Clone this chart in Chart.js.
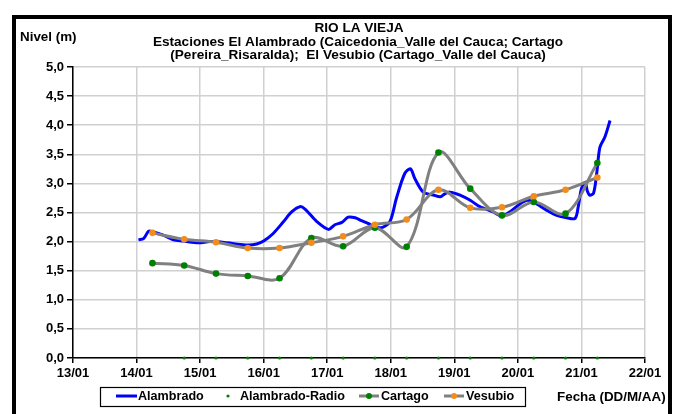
<!DOCTYPE html>
<html>
<head>
<meta charset="utf-8">
<script src="https://cdn.jsdelivr.net/npm/chart.js@4.4.0/dist/chart.umd.min.js"></script>
<style>
html,body{margin:0;padding:0;background:#fff;overflow:hidden;}
#wrap{position:relative;width:677px;height:414px;}
#frame{position:absolute;left:12px;top:15px;width:652px;height:420px;border:4px solid #000;box-sizing:content-box;pointer-events:none;}
canvas{position:absolute;left:0;top:0;}
</style>
</head>
<body>
<div id="wrap">
<canvas id="c" width="677" height="414"></canvas>
<div id="frame"></div>
</div>
<script>
// ---- Data ----
const titleLines = [
  'RIO LA VIEJA',
  'Estaciones El Alambrado (Caicedonia_Valle del Cauca; Cartago',
  '(Pereira_Risaralda);  El Vesubio (Cartago_Valle del Cauca)'
];
const xTickLabels = ['13/01','14/01','15/01','16/01','17/01','18/01','19/01','20/01','21/01','22/01'];
const yTickLabels = ['0,0','0,5','1,0','1,5','2,0','2,5','3,0','3,5','4,0','4,5','5,0'];

// Alambrado (continuous record), x in days of January
const alambradoDias = [14.03,14.11,14.19,14.25,14.42,14.58,14.74,14.97,15.16,15.42,15.63,15.76,15.89,16.00,16.15,16.31,16.44,16.57,16.65,16.84,17.02,17.12,17.23,17.33,17.44,17.54,17.65,17.75,17.88,17.99,18.09,18.22,18.31,18.38,18.51,18.67,18.78,18.85,18.93,19.09,19.25,19.40,19.61,19.75,19.90,20.00,20.08,20.16,20.29,20.45,20.61,20.77,20.90,20.95,21.00,21.06,21.09,21.13,21.19,21.24,21.29,21.37,21.45];
const alambradoNivel = [2.03,2.05,2.18,2.17,2.11,2.03,2.01,1.98,2.00,1.98,1.95,1.94,1.96,2.01,2.14,2.34,2.51,2.60,2.56,2.34,2.21,2.29,2.33,2.42,2.41,2.36,2.31,2.25,2.25,2.35,2.75,3.17,3.25,3.08,2.85,2.80,2.77,2.82,2.85,2.80,2.71,2.60,2.51,2.44,2.53,2.62,2.68,2.71,2.65,2.54,2.45,2.41,2.40,2.60,2.91,3.02,2.88,2.80,2.83,3.17,3.62,3.80,4.08];

const radioDias = [14.75,15.25,15.75,16.25,16.75,17.25,17.75,18.25,18.75,19.25,19.75,20.25,20.75,21.25];
const radioNivel = [0,0,0,0,0,0,0,0,0,0,0,0,0,0];

const estacionDias = [14.25,14.75,15.25,15.75,16.25,16.75,17.25,17.75,18.25,18.75,19.25,19.75,20.25,20.75,21.25];
const cartagoNivel = [1.63,1.59,1.45,1.41,1.37,2.06,1.92,2.24,1.91,3.53,2.91,2.45,2.68,2.48,3.35];
const vesubioNivel = [2.15,2.04,1.99,1.89,1.89,1.98,2.09,2.29,2.38,2.89,2.58,2.59,2.78,2.89,3.10];

// ---- Build ----
const pts = (xs, ys) => xs.map((x, i) => ({x: x, y: ys[i]}));
const FONT = '"Liberation Sans", Arial, sans-serif';
const BLUE = '#0000ff', GRAY = '#808080', GREEN = '#008000', ORANGE = '#f28c1c';

const extras = {
  id: 'extras',
  afterDraw(chart) {
    const ctx = chart.ctx;
    ctx.save();
    ctx.fillStyle = '#000';
    ctx.textBaseline = 'middle';
    ctx.textAlign = 'center';
    ctx.font = 'bold 13.6px ' + FONT;
    ctx.fillText(titleLines[0], 359, 28);
    ctx.fillText(titleLines[1], 358, 42);
    ctx.fillText(titleLines[2], 358, 55);
    ctx.textAlign = 'left';
    ctx.font = 'bold 13.4px ' + FONT;
    ctx.fillText('Nivel (m)', 20, 37);
    ctx.fillText('Fecha (DD/M/AA)', 557, 397);
    // legend box
    ctx.strokeStyle = '#000';
    ctx.lineWidth = 1.2;
    ctx.strokeRect(100.5, 387.5, 425, 19);
    ctx.font = 'bold 12.6px ' + FONT;
    const ly = 397;
    // Alambrado
    ctx.strokeStyle = BLUE; ctx.lineWidth = 3;
    ctx.beginPath(); ctx.moveTo(116, ly - 1); ctx.lineTo(137, ly - 1); ctx.stroke();
    ctx.fillText('Alambrado', 138, ly);
    // Radio
    ctx.fillStyle = GREEN;
    ctx.beginPath(); ctx.arc(228, ly - 1, 1.6, 0, Math.PI * 2); ctx.fill();
    ctx.fillStyle = '#000';
    ctx.fillText('Alambrado-Radio', 240, ly);
    // Cartago
    ctx.strokeStyle = GRAY; ctx.lineWidth = 3;
    ctx.beginPath(); ctx.moveTo(359, ly - 1); ctx.lineTo(379, ly - 1); ctx.stroke();
    ctx.fillStyle = GREEN;
    ctx.beginPath(); ctx.arc(369, ly - 1, 3, 0, Math.PI * 2); ctx.fill();
    ctx.fillStyle = '#000';
    ctx.fillText('Cartago', 381, ly);
    // Vesubio
    ctx.strokeStyle = GRAY;
    ctx.beginPath(); ctx.moveTo(444, ly - 1); ctx.lineTo(464, ly - 1); ctx.stroke();
    ctx.fillStyle = ORANGE;
    ctx.beginPath(); ctx.arc(454, ly - 1, 3, 0, Math.PI * 2); ctx.fill();
    ctx.fillStyle = '#000';
    ctx.fillText('Vesubio', 466, ly);
    ctx.restore();
  }
};

new Chart(document.getElementById('c'), {
  type: 'line',
  data: {
    datasets: [
      {label: 'Alambrado', data: pts(alambradoDias, alambradoNivel), borderColor: BLUE, borderWidth: 3,
       pointRadius: 0, tension: 0.3, order: 4},
      {label: 'Alambrado-Radio', data: pts(radioDias, radioNivel), showLine: false, pointRadius: 1.6,
       pointBackgroundColor: GREEN, pointBorderWidth: 0, clip: false, order: 3},
      {label: 'Cartago', data: pts(estacionDias, cartagoNivel), borderColor: GRAY, borderWidth: 3,
       pointRadius: 3.3, pointBackgroundColor: GREEN, pointBorderWidth: 0, tension: 0.35, order: 2},
      {label: 'Vesubio', data: pts(estacionDias, vesubioNivel), borderColor: GRAY, borderWidth: 3,
       pointRadius: 3.3, pointBackgroundColor: ORANGE, pointBorderWidth: 0, tension: 0.35, order: 1}
    ]
  },
  options: {
    responsive: false,
    animation: false,
    events: [],
    layout: {padding: {left: 0, top: 67, right: 32, bottom: 0}},
    plugins: {legend: {display: false}, title: {display: false}, tooltip: {enabled: false}},
    scales: {
      x: {
        type: 'linear', min: 13, max: 22,
        afterFit: s => { s.height = 56; },
        grid: {color: '#d0d0d0', lineWidth: 1.5, tickColor: '#000', tickLength: 5, drawTicks: true},
        border: {color: '#000', width: 1.5},
        ticks: {stepSize: 1, padding: 3, color: '#000', maxRotation: 0, autoSkip: false,
          font: {family: FONT, size: 13, weight: 'bold'},
          callback: (v) => xTickLabels[Math.round(v) - 13]}
      },
      y: {
        min: 0, max: 5,
        afterFit: s => { s.width = 73; },
        grid: {color: '#d0d0d0', lineWidth: 1.5, tickColor: '#000', tickLength: 6},
        border: {color: '#000', width: 1.5},
        ticks: {stepSize: 0.5, padding: 3, color: '#000',
          font: {family: FONT, size: 13, weight: 'bold'},
          callback: (v) => yTickLabels[Math.round(v * 2)]}
      }
    }
  },
  plugins: [extras]
});
</script>
</body>
</html>
